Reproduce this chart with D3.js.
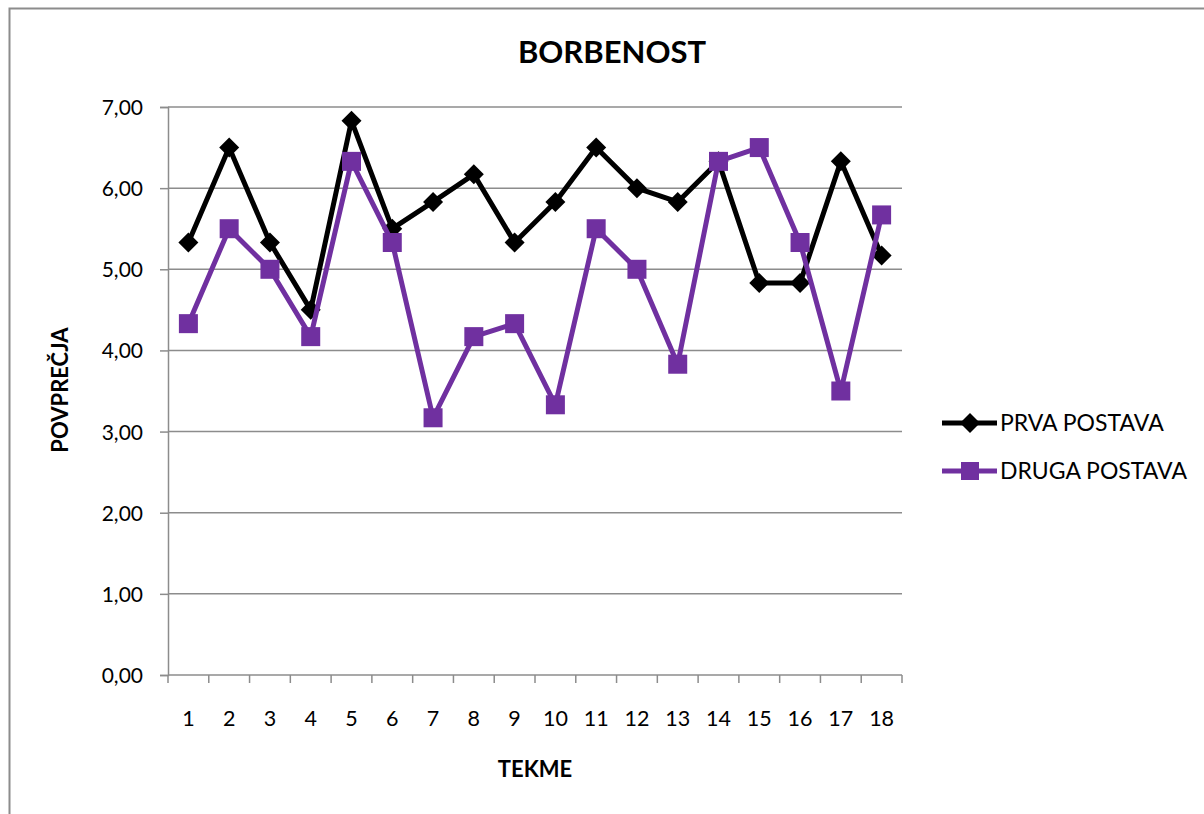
<!DOCTYPE html>
<html>
<head>
<meta charset="utf-8">
<script src="https://cdn.jsdelivr.net/npm/d3@7"></script>
<style>
  html, body { margin: 0; padding: 0; background: #fff; }
  svg { display: block; font-family: Lato, "Open Sans", sans-serif; }
</style>
</head>
<body>
<svg id="chart" width="1204" height="814"></svg>
<script>
// Match numbers 1..18
const categories = d3.range(1, 19).map(String);
const prvaPostava = [5.33, 6.5, 5.33, 4.5, 6.83, 5.5, 5.83, 6.17, 5.33, 5.83, 6.5, 6.0, 5.83, 6.33, 4.83, 4.83, 6.33, 5.17];
const drugaPostava = [4.33, 5.5, 5.0, 4.17, 6.33, 5.33, 3.17, 4.17, 4.33, 3.33, 5.5, 5.0, 3.83, 6.33, 6.5, 5.33, 3.5, 5.67];
const yTicks = [0, 1, 2, 3, 4, 5, 6, 7];
const seriesNames = ["PRVA POSTAVA", "DRUGA POSTAVA"];
const seriesColors = ["#000000", "#7030A0"];

const svg = d3.select("#chart");
const fmt = v => d3.format(".2f")(v).replace(".", ",");

// Outer chart frame
svg.append("rect")
  .attr("x", 9.5).attr("y", 8.5)
  .attr("width", 1300).attr("height", 1000)
  .attr("fill", "none").attr("stroke", "#8c8c8c").attr("stroke-width", 2);

const plot = { left: 168, right: 902, top: 107, bottom: 675 };
const x = d3.scaleBand().domain(categories).range([plot.left, plot.right]);
const y = d3.scaleLinear().domain([0, 7]).range([plot.bottom, plot.top]);

// Horizontal gridlines
svg.append("g")
  .selectAll("line").data(yTicks.filter(d => d > 0)).join("line")
  .attr("x1", plot.left).attr("x2", plot.right)
  .attr("y1", d => y(d)).attr("y2", d => y(d))
  .attr("stroke", "#8c8c8c").attr("stroke-width", 1.5);

// Y axis
const yAxis = svg.append("g")
  .attr("transform", `translate(${plot.left},0)`)
  .call(d3.axisLeft(y).tickValues(yTicks).tickFormat(fmt).tickSize(8).tickPadding(17));
yAxis.select(".domain").attr("stroke", "#8c8c8c").attr("stroke-width", 1.5);
yAxis.selectAll(".tick line").attr("stroke", "#8c8c8c").attr("stroke-width", 1.5);
yAxis.selectAll(".tick text").attr("font-size", 21).attr("fill", "#000")
  .attr("font-family", "Lato, sans-serif").attr("dy", "0.36em");

// X axis: ticks at category boundaries, labels at centers
const xg = svg.append("g").attr("transform", `translate(0,${plot.bottom})`);
xg.append("line").attr("x1", plot.left).attr("x2", plot.right)
  .attr("stroke", "#8c8c8c").attr("stroke-width", 1.5);
const bounds = categories.map(c => x(c)).concat([plot.right]);
xg.selectAll("line.tk").data(bounds).join("line").attr("class", "tk")
  .attr("x1", d => d).attr("x2", d => d).attr("y1", 0).attr("y2", 8)
  .attr("stroke", "#8c8c8c").attr("stroke-width", 1.5);
xg.selectAll("text").data(categories).join("text")
  .attr("x", d => x(d) + x.bandwidth() / 2).attr("y", 51)
  .attr("text-anchor", "middle").attr("font-size", 21.5).attr("fill", "#000")
  .text(d => d);

// Series lines and markers
const cx = (d, i) => x(categories[i]) + x.bandwidth() / 2;
const line = d3.line().x(cx).y(d => y(d));

function diamond(sel, px, py, r, color) {
  sel.append("path")
    .attr("d", `M${px},${py - r}L${px + r},${py}L${px},${py + r}L${px - r},${py}Z`)
    .attr("fill", color);
}
function square(sel, px, py, r, color) {
  sel.append("rect")
    .attr("x", px - r).attr("y", py - r).attr("width", 2 * r).attr("height", 2 * r)
    .attr("fill", color);
}

// PRVA POSTAVA
const g1 = svg.append("g");
g1.append("path").datum(prvaPostava).attr("d", line)
  .attr("fill", "none").attr("stroke", seriesColors[0]).attr("stroke-width", 5)
  .attr("stroke-linejoin", "round");
prvaPostava.forEach((v, i) => diamond(g1, cx(v, i), y(v), 10, seriesColors[0]));

// DRUGA POSTAVA
const g2 = svg.append("g");
g2.append("path").datum(drugaPostava).attr("d", line)
  .attr("fill", "none").attr("stroke", seriesColors[1]).attr("stroke-width", 5)
  .attr("stroke-linejoin", "round");
drugaPostava.forEach((v, i) => square(g2, cx(v, i), y(v), 9.5, seriesColors[1]));

// Titles
svg.append("text").attr("x", 612).attr("y", 63).attr("text-anchor", "middle")
  .attr("font-size", 31).attr("font-weight", "bold").text("BORBENOST");
svg.append("text").attr("transform", "translate(68,390) rotate(-90)")
  .attr("text-anchor", "middle").attr("font-size", 22).attr("font-weight", "bold")
  .text("POVPREČJA");
svg.append("text").attr("x", 535).attr("y", 777).attr("text-anchor", "middle")
  .attr("font-size", 22).attr("font-weight", "bold").text("TEKME");

// Legend
const legend = svg.append("g");
[0, 1].forEach(i => {
  const ly = 423 + i * 48;
  legend.append("line").attr("x1", 942).attr("x2", 997).attr("y1", ly).attr("y2", ly)
    .attr("stroke", seriesColors[i]).attr("stroke-width", 5);
  if (i === 0) diamond(legend, 970, ly, 10, seriesColors[i]);
  else square(legend, 970, ly, 9, seriesColors[i]);
  legend.append("text").attr("x", 1000).attr("y", ly + 8).attr("font-size", 23)
    .attr("fill", "#000").text(seriesNames[i]);
});
</script>
</body>
</html>
